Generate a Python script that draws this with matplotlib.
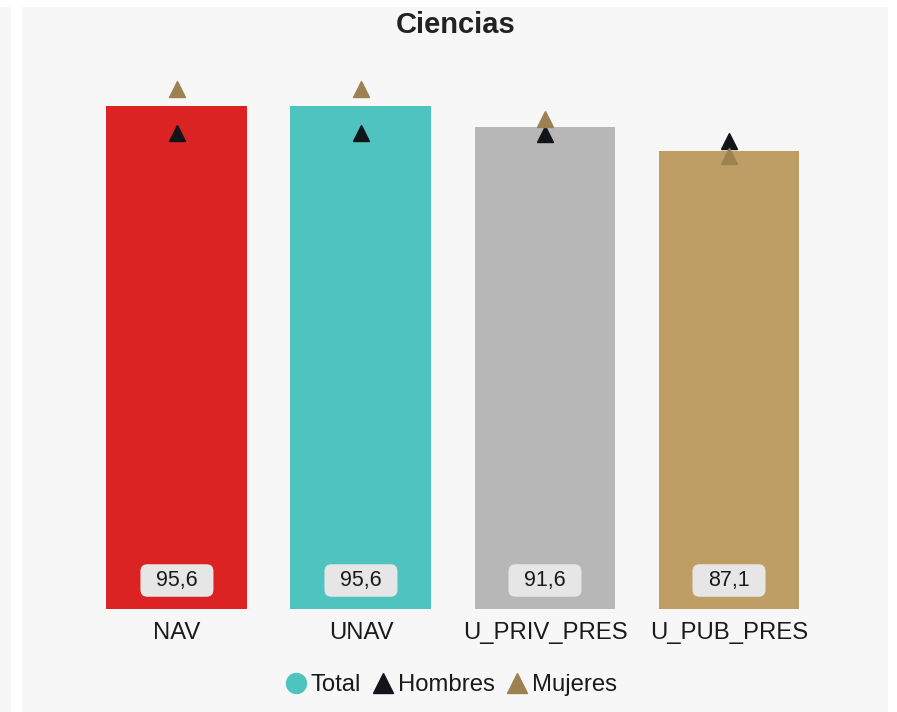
import matplotlib
matplotlib.use("Agg")
import matplotlib.pyplot as plt
from matplotlib.patches import Rectangle, FancyBboxPatch
from matplotlib.lines import Line2D
from matplotlib.transforms import ScaledTranslation, Affine2D

plt.rcParams['font.family'] = ['Liberation Sans', 'DejaVu Sans']

categories = ["NAV", "UNAV", "U_PRIV_PRES", "U_PUB_PRES"]
total = [95.6, 95.6, 91.6, 87.1]
hombres = [90.4, 90.4, 90.3, 89.0]
mujeres = [98.7, 98.7, 93.0, 86.1]
bar_colors = ["#dc2323", "#4fc3c0", "#b7b7b7", "#bf9e66"]
title = "Ciencias"

W, H = 897, 712
fig = plt.figure(figsize=(W / 100, H / 100), dpi=100, facecolor="white")

# background panels
fig.patches.append(Rectangle((0, 0), 11 / W, 1 - 7 / H, transform=fig.transFigure,
                             facecolor="#f7f7f7", edgecolor="none", zorder=-5))
fig.patches.append(Rectangle((22 / W, 0), 866 / W, 1 - 7 / H, transform=fig.transFigure,
                             facecolor="#f7f7f7", edgecolor="none", zorder=-5))

ax = fig.add_axes([22 / W, 103 / H, 866 / W, 559 / H])
ax.set_zorder(2)
ax.set_facecolor("none")
x = list(range(len(categories)))
ax.bar(x, total, width=0.766, color=bar_colors, zorder=2)
ax.plot(x, hombres, linestyle="none", marker="^", markersize=11, color="#111418", zorder=3)
ax.plot(x, mujeres, linestyle="none", marker="^", markersize=11, color="#9e8150", zorder=3)

ax.set_xlim(-0.842, 3.864)
ax.set_ylim(0, 106.2)
ax.axis("off")

for i, (c, v) in enumerate(zip(categories, total)):
    ax.annotate(c, xy=(i, 0), xytext=(0, -17.5), textcoords="offset points",
                ha="center", va="center", fontsize=17.2, color="#1a1a1a",
                annotation_clip=False)
    # rounded label box (pixel units relative to bar base)
    trans = Affine2D() + ScaledTranslation(i, 0, ax.transData)
    box = FancyBboxPatch((-36.5, 28.5 - 16.25), 73, 32.5,
                         boxstyle="round,pad=0,rounding_size=7",
                         facecolor="#e6e6e6", edgecolor="none",
                         transform=trans, zorder=4)
    ax.add_patch(box)
    ax.annotate(f"{v:.1f}".replace(".", ","), xy=(i, 0), xytext=(0, 20.5),
                textcoords="offset points", ha="center", va="center",
                fontsize=15.5, color="#1a1a1a", zorder=5)

fig.text(456 / W, 1 - 25 / H, title, ha="center", va="center",
         fontsize=21, fontweight="bold", color="#222222")

handles = [
    Line2D([], [], linestyle="none", marker="o", markersize=14.4, color="#4fc3c0"),
    Line2D([], [], linestyle="none", marker="^", markersize=13.7, color="#111418"),
    Line2D([], [], linestyle="none", marker="^", markersize=13.7, color="#9e8150"),
]
fig.legend(handles, ["Total", "Hombres", "Mujeres"], loc="center",
           bbox_to_anchor=(451 / W, 1 - 685 / H), ncol=3, frameon=False,
           fontsize=17.2, handlelength=0.9, handletextpad=0.15, columnspacing=0.5,
           labelcolor="#1a1a1a")

fig.savefig("out.png", dpi=100, facecolor="white")
